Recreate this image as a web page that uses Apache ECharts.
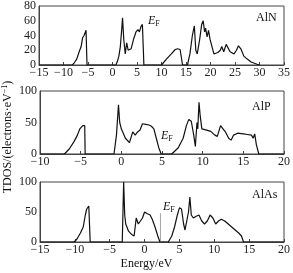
<!DOCTYPE html>
<html>
<head>
<meta charset="utf-8">
<script src="https://cdn.jsdelivr.net/npm/echarts@6/dist/echarts.min.js"></script>
<style>
  html, body { margin: 0; padding: 0; background: #fff; }
  #chart { width: 293px; height: 273px; }
</style>
</head>
<body>
<div id="chart"></div>
<script>
// TDOS: [energy eV, DOS]
const alnDos = [
  [-15, 0], [-8.2, 0], [-7.8, 3], [-7.3, 8], [-6.8, 18], [-6.4, 25], [-6.1, 37], [-5.8, 40], [-5.6, 42],
  [-5.4, 47], [-5.25, 46], [-5.2, 0], [0.7, 0], [1.0, 5], [1.3, 12], [1.6, 25], [1.9, 50], [2.05, 64],
  [2.3, 35], [2.6, 15], [2.9, 30], [3.2, 20], [3.8, 22], [4.3, 35], [4.8, 45], [5.2, 48], [5.5, 45],
  [5.8, 52], [6.1, 55], [6.3, 20], [6.4, 0], [10.0, 0], [11.0, 8], [12.0, 15], [12.8, 21], [13.3, 22],
  [13.8, 21], [14.1, 23], [14.3, 0], [15.3, 0], [15.8, 15], [16.3, 40], [16.7, 53], [17.0, 20],
  [17.3, 15], [17.8, 35], [18.2, 55], [18.5, 60], [18.8, 45], [19.0, 50], [19.3, 38], [19.6, 47],
  [19.9, 35], [20.3, 25], [20.7, 15], [21.0, 13], [21.5, 17], [22.0, 20], [22.3, 25], [22.7, 18],
  [23.2, 28], [23.5, 30], [24.0, 18], [24.8, 15], [25.3, 20], [25.7, 26], [26.2, 22], [26.8, 12],
  [27.5, 8], [28.3, 4], [29.5, 1], [30.0, 0]
];
const alpDos = [
  [-10, 0], [-7.0, 0], [-6.4, 8], [-5.8, 20], [-5.4, 30], [-5.1, 40], [-4.9, 43], [-4.75, 45], [-4.6, 43],
  [-4.5, 45], [-4.45, 0], [-0.9, 0], [-0.6, 30], [-0.35, 78], [-0.2, 50], [0.0, 40], [0.5, 25],
  [1.0, 18], [1.2, 15], [1.4, 35], [1.7, 30], [2.0, 35], [2.3, 38], [2.6, 48], [3.0, 47], [3.4, 46],
  [3.7, 44], [4.0, 40], [4.3, 25], [4.6, 10], [4.9, 0], [6.2, 0], [7.0, 10], [7.6, 25], [8.0, 45],
  [8.3, 55], [8.6, 52], [8.9, 30], [9.1, 12], [9.3, 50], [9.4, 40], [9.55, 82], [9.7, 60], [9.9, 40],
  [10.5, 38], [11.0, 36], [11.5, 30], [11.8, 28], [12.2, 45], [12.5, 40], [12.8, 35], [13.2, 25],
  [13.5, 22], [13.8, 30], [14.3, 33], [15.0, 32], [15.5, 31], [16.0, 30], [16.2, 25], [16.4, 32],
  [16.6, 15], [16.9, 0], [20, 0]
];
const alasDos = [
  [-15, 0], [-10.1, 0], [-9.7, 5], [-9.2, 15], [-8.8, 25], [-8.5, 45], [-8.3, 55], [-8.15, 52],
  [-8.0, 60], [-7.85, 58], [-7.8, 0], [-3.2, 0], [-3.0, 100], [-2.85, 45], [-2.7, 30], [-2.3, 18],
  [-1.8, 12], [-1.5, 10], [-1.2, 40], [-0.9, 30], [-0.6, 35], [-0.3, 40], [0.0, 50], [0.4, 47],
  [0.8, 45], [1.1, 38], [1.5, 25], [1.9, 10], [2.2, 0], [3.4, 0], [3.9, 10], [4.3, 25], [4.7, 45],
  [5.0, 57], [5.3, 55], [5.6, 30], [5.8, 20], [6.0, 22], [6.3, 50], [6.5, 75], [6.7, 45], [7.0, 40],
  [7.4, 43], [7.8, 45], [8.2, 35], [8.6, 30], [9.0, 35], [9.4, 45], [9.8, 40], [10.2, 30], [10.6, 35],
  [11.0, 38], [11.5, 35], [12.0, 30], [12.5, 25], [13.0, 20], [13.5, 15], [13.9, 10], [14.2, 0], [20, 0]
];
const alasFermi = [[2.28, 0], [2.28, 48]];

const xRanges = [[-15, 35], [-10, 20], [-15, 20]];
const yRanges = [[0, 80, 20], [0, 100, 50], [0, 100, 50]];

const chart = echarts.init(document.getElementById('chart'));
const font = 'Liberation Serif, Times New Roman, serif';
const grids = [
  { left: 39, right: 5, top: 5, height: 60 },
  { left: 40, right: 6, top: 91, height: 63 },
  { left: 40, right: 6, top: 182, height: 60 }
];

const minus = v => String(v).replace('-', '\u2212');

const option = {
  animation: false,
  grid: grids.map(g => Object.assign({ show: true, borderColor: '#444', borderWidth: 1, backgroundColor: 'transparent' }, g)),
  xAxis: xRanges.map((r, i) => ({
    type: 'value', gridIndex: i, min: r[0], max: r[1], interval: 5,
    axisLine: { show: true, onZero: false, lineStyle: { color: '#444' } },
    axisTick: { show: true, inside: true, length: 3, lineStyle: { color: '#444' } },
    axisLabel: { fontFamily: font, fontSize: 12, color: '#222', margin: 2, formatter: minus },
    splitLine: { show: false }
  })),
  yAxis: yRanges.map((r, i) => ({
    type: 'value', gridIndex: i, min: r[0], max: r[1], interval: r[2],
    axisLine: { show: true, onZero: false, lineStyle: { color: '#444' } },
    axisTick: { show: false },
    axisLabel: { fontFamily: font, fontSize: 12, color: '#222', margin: 3 },
    splitLine: { show: false }
  })),
  series: [
    { type: 'line', xAxisIndex: 0, yAxisIndex: 0, data: alnDos },
    { type: 'line', xAxisIndex: 1, yAxisIndex: 1, data: alpDos },
    { type: 'line', xAxisIndex: 2, yAxisIndex: 2, data: alasDos },
    { type: 'line', xAxisIndex: 2, yAxisIndex: 2, data: alasFermi, lineStyle: { width: 0.6, color: '#666' } }
  ].map(s => Object.assign({ showSymbol: false, symbol: 'none', lineStyle: { width: 1.2, color: '#111' } }, s)),
  graphic: [
    { type: 'text', left: 256, top: 12, style: { text: 'AlN', font: '12px ' + font, fill: '#111' } },
    { type: 'text', left: 252, top: 101, style: { text: 'AlP', font: '12px ' + font, fill: '#111' } },
    { type: 'text', left: 252, top: 189, style: { text: 'AlAs', font: '12px ' + font, fill: '#111' } },
    ...[[148, 15], [161, 130], [163, 201]].map(p => ({
      type: 'text', left: p[0], top: p[1],
      style: {
        text: '{e|E}{f|F}',
        rich: {
          e: { font: 'italic 12px ' + font, fill: '#111' },
          f: { font: '8px ' + font, fill: '#111', padding: [5, 0, 0, 0] }
        }
      }
    })),
    { type: 'text', left: 'center', top: 258, style: { text: 'Energy/eV', font: '12px ' + font, fill: '#111' } },
    {
      type: 'text', x: 8, y: 137, rotation: Math.PI / 2,
      style: {
        text: 'TDOS/(electrons·eV{s|\u22121})', align: 'center', verticalAlign: 'middle',
        font: '12px ' + font, fill: '#111',
        rich: { s: { font: '8px ' + font, fill: '#111', padding: [0, 0, 6, 0] } }
      }
    }
  ]
};
chart.setOption(option);
</script>
</body>
</html>
